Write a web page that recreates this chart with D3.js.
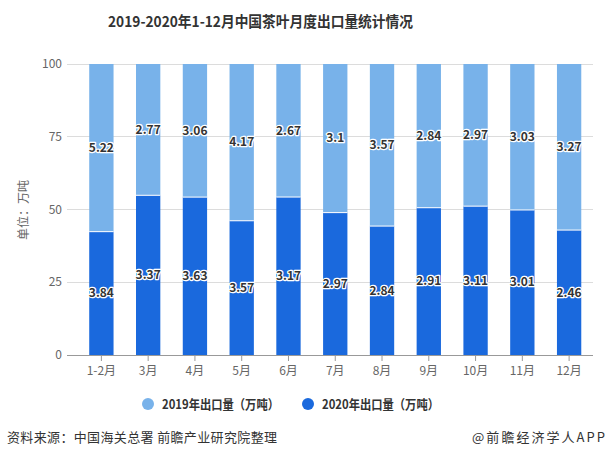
<!DOCTYPE html>
<html><head><meta charset="utf-8">
<script src="https://cdn.jsdelivr.net/npm/d3@7"></script>
<style>body{margin:0;background:#fff}svg{display:block;font-family:"Noto Sans CJK SC","Noto Sans",sans-serif}</style>
</head><body>
<svg id="c" width="610" height="459"></svg>
<script>
const categories = ["1-2月","3月","4月","5月","6月","7月","8月","9月","10月","11月","12月"];
const values2019 = [5.22,2.77,3.06,4.17,2.67,3.1,3.57,2.84,2.97,3.03,3.27];
const values2020 = [3.84,3.37,3.63,3.57,3.17,2.97,2.84,2.91,3.11,3.01,2.46];
const seriesNames = ["2019年出口量（万吨）","2020年出口量（万吨）"];
const yTicks = [0,25,50,75,100];
const colors = ["#78b2ea","#1a69dd"];

const svg = d3.select("#c");
const x = d3.scaleBand().domain(categories).range([78,592.5]).paddingInner(0.48).paddingOuter(0.24);
const y = d3.scaleLinear().domain([0,100]).range([355,64]);

// title
svg.append("text").attr("x",108).attr("y",27).attr("textLength",305).attr("lengthAdjust","spacingAndGlyphs")
  .attr("font-size",15).attr("font-weight","bold").attr("fill","#333").text("2019-2020年1-12月中国茶叶月度出口量统计情况");

// grid
svg.append("g").selectAll("line").data(yTicks.filter(d=>d>0)).join("line")
  .attr("x1",67).attr("x2",593).attr("y1",d=>y(d)).attr("y2",d=>y(d))
  .attr("stroke","#dcdcdc").attr("stroke-width",1).attr("shape-rendering","crispEdges");
svg.append("g").selectAll("text").data(yTicks).join("text")
  .attr("x",62).attr("y",d=>y(d)+4).attr("text-anchor","end").attr("font-size",12).attr("fill","#666").text(d=>d);

svg.append("text").attr("transform","translate(28,210) rotate(-90)").attr("text-anchor","middle")
  .attr("font-size",12).attr("fill","#666").text("单位：万吨");

// stacked percentage data
const rows = categories.map((c,i)=>{const t=values2019[i]+values2020[i];return {c,a:values2020[i],b:values2019[i],pa:values2020[i]/t*100};});

const g = svg.append("g");
rows.forEach(r=>{
  g.append("rect").attr("x",x(r.c)).attr("width",x.bandwidth()).attr("y",y(100)).attr("height",y(r.pa)-y(100)).attr("fill",colors[0]);
  g.append("rect").attr("x",x(r.c)).attr("width",x.bandwidth()).attr("y",y(r.pa)).attr("height",y(0)-y(r.pa)).attr("fill",colors[1]);
  g.append("line").attr("x1",x(r.c)).attr("x2",x(r.c)+x.bandwidth()).attr("y1",y(r.pa)).attr("y2",y(r.pa)).attr("stroke","#fff").attr("stroke-width",1);
});
const lab = svg.append("g").attr("font-size",12).attr("font-weight","bold").attr("text-anchor","middle");
rows.forEach(r=>{
  const cx = x(r.c)+x.bandwidth()/2;
  [[ (y(100)+y(r.pa))/2, r.b],[ (y(r.pa)+y(0))/2, r.a]].forEach(([cy,v])=>{
    lab.append("text").attr("x",cx).attr("y",cy+4).attr("fill","#333").attr("stroke","#fff").attr("stroke-width",2.5)
      .attr("paint-order","stroke").attr("stroke-linejoin","round").text(v);
  });
});

// x axis
svg.append("line").attr("x1",67).attr("x2",593).attr("y1",355.5).attr("y2",355.5).attr("stroke","#999");
svg.append("g").selectAll("line").data(categories).join("line")
  .attr("x1",d=>x(d)+x.bandwidth()/2).attr("x2",d=>x(d)+x.bandwidth()/2).attr("y1",356).attr("y2",361).attr("stroke","#999");
svg.append("g").selectAll("text").data(categories).join("text")
  .attr("x",d=>x(d)+x.bandwidth()/2).attr("y",375).attr("text-anchor","middle").attr("font-size",12).attr("fill","#666").text(d=>d);

// legend
const leg = [[148,seriesNames[0],colors[0]],[308,seriesNames[1],colors[1]]];
leg.forEach(([lx,t,c])=>{
  svg.append("circle").attr("cx",lx).attr("cy",404).attr("r",6).attr("fill",c);
  svg.append("text").attr("x",lx+14).attr("y",409).attr("font-size",13).attr("font-weight","bold").attr("fill","#333")
    .attr("textLength",117).attr("lengthAdjust","spacingAndGlyphs").text(t);
});

// footer
svg.append("text").attr("x",7).attr("y",442).attr("font-size",13).attr("fill","#333")
  .attr("textLength",270).attr("lengthAdjust","spacing").text("资料来源：中国海关总署 前瞻产业研究院整理");
svg.append("text").attr("x",472).attr("y",442).attr("font-size",13).attr("fill","#333")
  .attr("textLength",133).attr("lengthAdjust","spacing").text("@前瞻经济学人APP");
</script>
</body></html>
